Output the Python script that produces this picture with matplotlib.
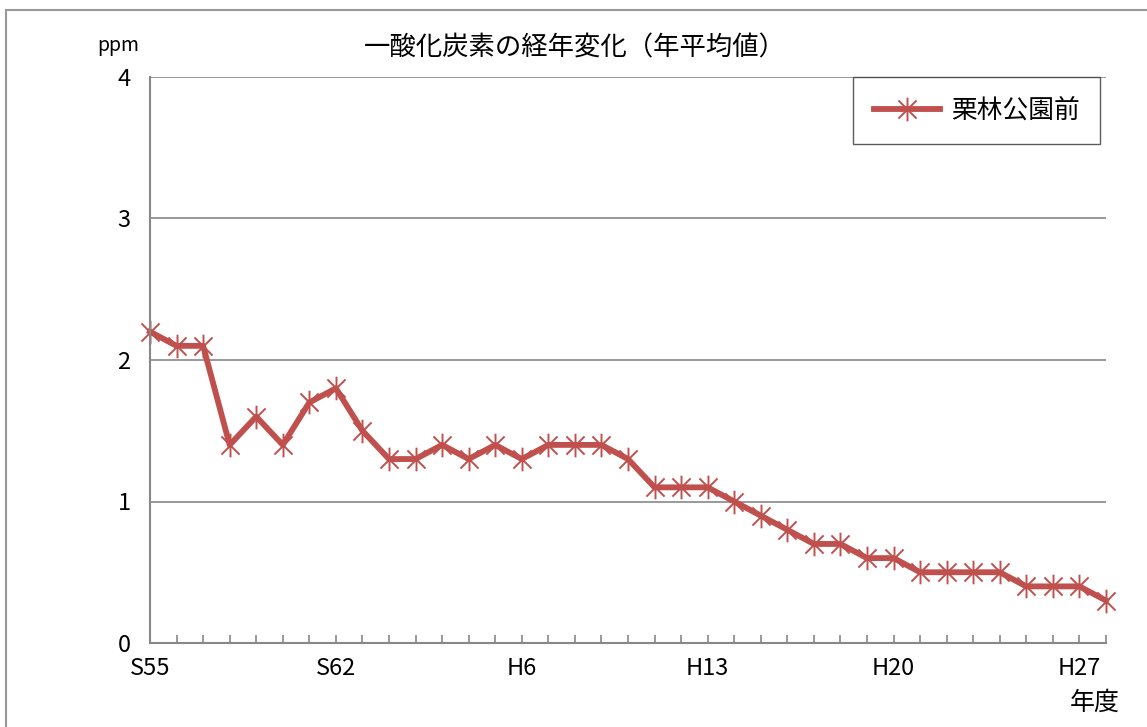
import numpy as np
import matplotlib.pyplot as plt
from matplotlib.path import Path
from matplotlib.patches import Rectangle

plt.rcParams['font.family'] = ['Noto Sans CJK JP', 'DejaVu Sans']

years = ["S55", "S56", "S57", "S58", "S59", "S60", "S61", "S62", "S63",
         "H1", "H2", "H3", "H4", "H5", "H6", "H7", "H8", "H9", "H10",
         "H11", "H12", "H13", "H14", "H15", "H16", "H17", "H18", "H19",
         "H20", "H21", "H22", "H23", "H24", "H25", "H26", "H27", "H28"]
co_values = [2.2, 2.1, 2.1, 1.4, 1.6, 1.4, 1.7, 1.8, 1.5,
             1.3, 1.3, 1.4, 1.3, 1.4, 1.3, 1.4, 1.4, 1.4, 1.3,
             1.1, 1.1, 1.1, 1.0, 0.9, 0.8, 0.7, 0.7, 0.6,
             0.6, 0.5, 0.5, 0.5, 0.5, 0.4, 0.4, 0.4, 0.3]
label_years = ["S55", "S62", "H6", "H13", "H20", "H27"]
series_name = "栗林公園前"

red = "#C0504D"
grey = "#888888"

# star marker: X plus vertical bar (Excel style)
star = Path([(-1, -1), (1, 1), (-1, 1), (1, -1), (0, -1.3), (0, 1.3)],
            [Path.MOVETO, Path.LINETO, Path.MOVETO, Path.LINETO, Path.MOVETO, Path.LINETO])

fig = plt.figure(figsize=(11.47, 7.27), dpi=100)
ax = fig.add_axes([150 / 1147, 1 - 643 / 727, (1106 - 150) / 1147, (643 - 77) / 727])

x = np.arange(len(years))
ax.plot(x, co_values, color=red, linewidth=4.2, marker=star, markersize=17,
        markeredgewidth=1.4, markerfacecolor="none", markeredgecolor=red,
        label=series_name, clip_on=False)

ax.set_xlim(0, len(years) - 1)
ax.set_ylim(0, 4)
ax.set_yticks([0, 1, 2, 3, 4])
ax.yaxis.grid(True, color=grey, linewidth=1.2)
ax.set_axisbelow(True)
ax.tick_params(axis="y", length=0, pad=14, labelsize=17)

ax.set_xticks(x, minor=True)
ax.set_xticks([years.index(y) for y in label_years])
ax.set_xticklabels(label_years)
ax.tick_params(axis="x", which="both", direction="in", length=6, width=1.2,
               color=grey, labelsize=17, pad=10)

for s in ["top", "right"]:
    ax.spines[s].set_visible(False)
for s in ["left", "bottom"]:
    ax.spines[s].set_color(grey)
    ax.spines[s].set_linewidth(1.5)

fig.text(575 / 1147, 1 - 48 / 727, "一酸化炭素の経年変化（年平均値）", ha="center", va="center", fontsize=19)
fig.text(118 / 1147, 1 - 45 / 727, "ppm", ha="center", va="center", fontsize=14)
fig.text(1095 / 1147, 1 - 703 / 727, "年度", ha="center", va="center", fontsize=18)

leg = ax.legend(loc="upper right", bbox_to_anchor=(1.0 - 6 / 956, 1.0), fontsize=18.5,
                frameon=True, fancybox=False, handlelength=2.6, borderpad=0.8,
                borderaxespad=0, handletextpad=0.4)
leg.get_frame().set_edgecolor("#333333")
leg.get_frame().set_linewidth(1.0)

fig.patches.append(Rectangle((6 / 1147, -0.05), 1.1, 1 - 10 / 727 + 0.05, transform=fig.transFigure,
                             fill=False, edgecolor="#999999", linewidth=1.5))

fig.savefig("out.png", dpi=100)
